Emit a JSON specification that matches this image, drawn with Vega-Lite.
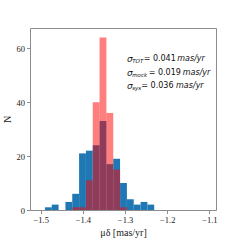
{
  "$schema": "https://vega.github.io/schema/vega-lite/v6.json",
  "autosize": "none",
  "width": 186,
  "height": 182,
  "padding": {"left": 30, "top": 28, "right": 24, "bottom": 30},
  "background": "white",
  "config": {
    "view": {"stroke": "#8c8c8c", "strokeWidth": 1},
    "axis": {
      "domain": false,
      "grid": false,
      "tickColor": "#8c8c8c",
      "tickSize": 3.5,
      "labelFont": "Liberation Serif",
      "labelFontSize": 8.5,
      "labelColor": "#222222",
      "titleFont": "Liberation Serif",
      "titleFontSize": 10,
      "titleFontWeight": "normal",
      "titleColor": "#222222"
    }
  },
  "datasets": {
    "blue": [
      {"x0": -1.4900, "x1": -1.4738, "n": 1},
      {"x0": -1.4738, "x1": -1.4576, "n": 2},
      {"x0": -1.4576, "x1": -1.4414, "n": 0},
      {"x0": -1.4414, "x1": -1.4252, "n": 3},
      {"x0": -1.4252, "x1": -1.4090, "n": 6},
      {"x0": -1.4090, "x1": -1.3928, "n": 21},
      {"x0": -1.3928, "x1": -1.3766, "n": 22},
      {"x0": -1.3766, "x1": -1.3604, "n": 24},
      {"x0": -1.3604, "x1": -1.3442, "n": 33},
      {"x0": -1.3442, "x1": -1.3280, "n": 17},
      {"x0": -1.3280, "x1": -1.3118, "n": 19},
      {"x0": -1.3118, "x1": -1.2956, "n": 10},
      {"x0": -1.2956, "x1": -1.2794, "n": 4},
      {"x0": -1.2794, "x1": -1.2632, "n": 2},
      {"x0": -1.2632, "x1": -1.2470, "n": 3},
      {"x0": -1.2470, "x1": -1.2308, "n": 2}
    ],
    "red": [
      {"x0": -1.4252, "x1": -1.4090, "n": 1},
      {"x0": -1.4090, "x1": -1.3928, "n": 1},
      {"x0": -1.3928, "x1": -1.3766, "n": 11},
      {"x0": -1.3766, "x1": -1.3604, "n": 40},
      {"x0": -1.3604, "x1": -1.3442, "n": 64},
      {"x0": -1.3442, "x1": -1.3280, "n": 36},
      {"x0": -1.3280, "x1": -1.3118, "n": 15},
      {"x0": -1.3118, "x1": -1.2956, "n": 1}
    ],
    "notes": [
      {"sig": "σ", "sub": "TOT", "val": "= 0.041", "unit": "mas/yr", "xs": -1.2953, "xeq": -1.2559, "xunit": -1.1761, "y": 55.9},
      {"sig": "σ", "sub": "mock", "val": "= 0.019", "unit": "mas/yr", "xs": -1.2953, "xeq": -1.2439, "xunit": -1.1630, "y": 50.9},
      {"sig": "σ", "sub": "sys", "val": "= 0.036", "unit": "mas/yr", "xs": -1.2953, "xeq": -1.2614, "xunit": -1.1790, "y": 45.9}
    ]
  },
  "layer": [
    {
      "data": {"name": "blue"},
      "mark": {"type": "rect", "color": "#1f77b4", "opacity": 1},
      "encoding": {
        "x": {
          "field": "x0", "type": "quantitative",
          "scale": {"domain": [-1.5254, -1.0843], "nice": false, "zero": false},
          "axis": {"values": [-1.5, -1.4, -1.3, -1.2, -1.1], "format": ".1f", "title": "μδ  [mas/yr]", "titlePadding": 3, "labelPadding": 2}
        },
        "x2": {"field": "x1"},
        "y": {
          "field": "n", "type": "quantitative",
          "scale": {"domain": [0, 67.5], "nice": false},
          "axis": {"values": [0, 10, 20, 30, 40, 50, 60], "title": "N", "titlePadding": 4, "labelPadding": 2}
        },
        "y2": {"datum": 0}
      }
    },
    {
      "data": {"name": "red"},
      "mark": {"type": "rect", "color": "#ff0000", "opacity": 0.5},
      "encoding": {
        "x": {"field": "x0", "type": "quantitative"},
        "x2": {"field": "x1"},
        "y": {"field": "n", "type": "quantitative"},
        "y2": {"datum": 0}
      }
    },
    {
      "data": {"name": "notes"},
      "mark": {"type": "text", "align": "left", "baseline": "middle", "font": "DejaVu Sans", "fontStyle": "italic", "fontSize": 9, "color": "#111111"},
      "encoding": {
        "x": {"field": "xs", "type": "quantitative"},
        "y": {"field": "y", "type": "quantitative"},
        "text": {"field": "sig"}
      }
    },
    {
      "data": {"name": "notes"},
      "mark": {"type": "text", "align": "left", "baseline": "middle", "font": "DejaVu Sans", "fontStyle": "italic", "fontSize": 5.5, "dx": 5.2, "dy": 2.2, "color": "#111111"},
      "encoding": {
        "x": {"field": "xs", "type": "quantitative"},
        "y": {"field": "y", "type": "quantitative"},
        "text": {"field": "sub"}
      }
    },
    {
      "data": {"name": "notes"},
      "mark": {"type": "text", "align": "left", "baseline": "middle", "font": "DejaVu Sans", "fontSize": 8, "color": "#111111"},
      "encoding": {
        "x": {"field": "xeq", "type": "quantitative"},
        "y": {"field": "y", "type": "quantitative"},
        "text": {"field": "val"}
      }
    },
    {
      "data": {"name": "notes"},
      "mark": {"type": "text", "align": "left", "baseline": "middle", "font": "DejaVu Sans", "fontStyle": "italic", "fontSize": 8, "color": "#111111"},
      "encoding": {
        "x": {"field": "xunit", "type": "quantitative"},
        "y": {"field": "y", "type": "quantitative"},
        "text": {"field": "unit"}
      }
    }
  ]
}
